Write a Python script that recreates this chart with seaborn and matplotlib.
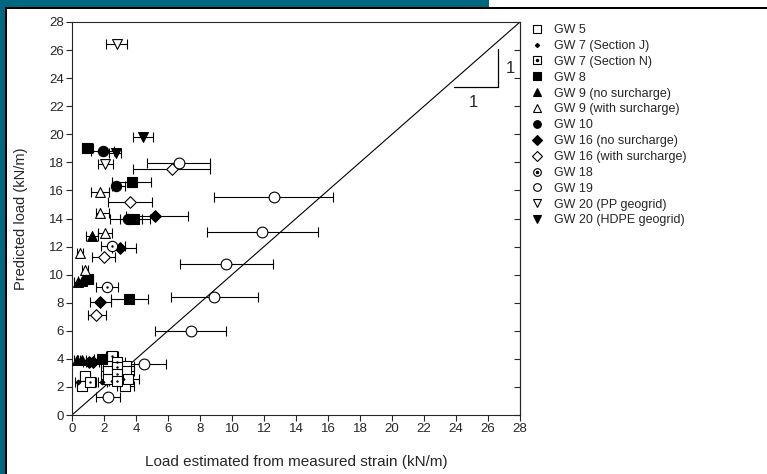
import matplotlib
matplotlib.use("Agg")
import matplotlib.pyplot as plt
from matplotlib.lines import Line2D
from matplotlib.patches import Rectangle
import seaborn as sns

# ---- data: x = load from strain, y = predicted load, lo/hi = x error bar ends ----
gw5_x = [0.8, 0.6, 2.25, 2.25, 3.4, 3.4, 3.3, 2.25, 3.5]
gw5_y = [2.8, 2.1, 3.6, 3.15, 3.5, 3.15, 2.1, 2.6, 2.6]
gw5_lo = [0.5, 0.3, 1.8, 1.8, 2.9, 2.9, 2.8, 1.8, 3.0]
gw5_hi = [1.1, 0.9, 2.8, 2.8, 3.9, 3.9, 3.9, 2.8, 4.2]

gw7j_x = [0.4, 1.9, 2.55, 3.1]
gw7j_y = [2.37, 2.37, 2.45, 2.55]
gw7j_lo = [0.2, 1.6, 2.2, 2.7]
gw7j_hi = [0.6, 2.2, 2.9, 3.5]

gw7n_x = [2.5, 1.15, 2.8, 2.8, 2.8, 2.8]
gw7n_y = [4.2, 2.37, 3.8, 3.4, 2.9, 2.45]
gw7n_lo = [2.1, 0.8, 2.3, 2.3, 2.3, 2.3]
gw7n_hi = [2.9, 1.5, 3.3, 3.3, 3.3, 3.3]

gw8_x = [0.92, 3.73, 3.85, 1.0, 3.56, 1.85]
gw8_y = [19.0, 16.6, 14.0, 9.7, 8.3, 4.0]
gw8_lo = [0.65, 2.5, 3.0, 0.7, 2.45, 1.4]
gw8_hi = [1.3, 4.95, 4.9, 1.3, 4.75, 2.3]

gw9n_x = [1.25, 0.35, 0.65, 0.29, 0.6]
gw9n_y = [12.75, 9.45, 9.55, 3.92, 3.92]
gw9n_lo = [0.9, 0.15, 0.4, 0.1, 0.35]
gw9n_hi = [1.6, 0.6, 0.95, 0.5, 0.9]

gw9s_x = [1.73, 1.75, 2.04, 0.48, 0.79]
gw9s_y = [15.9, 14.4, 13.0, 11.56, 10.33]
gw9s_lo = [1.19, 1.48, 1.6, 0.3, 0.6]
gw9s_hi = [2.29, 2.31, 2.5, 0.7, 1.0]

gw10_x = [1.94, 2.78, 3.5]
gw10_y = [18.83, 16.35, 14.0]
gw10_lo = [1.2, 2.5, 2.35]
gw10_hi = [2.6, 3.3, 4.4]

gw16n_x = [5.2, 2.98, 1.77, 1.33, 1.05]
gw16n_y = [14.2, 11.87, 8.08, 3.8, 3.75]
gw16n_lo = [3.4, 2.5, 1.15, 0.9, 0.7]
gw16n_hi = [7.25, 4.0, 2.45, 1.7, 1.4]

gw16s_x = [6.23, 3.61, 2.0, 1.52]
gw16s_y = [17.53, 15.17, 11.28, 7.1]
gw16s_lo = [3.83, 2.28, 1.25, 1.0]
gw16s_hi = [8.6, 4.98, 2.7, 2.1]

gw18_x = [2.5, 2.19]
gw18_y = [12.04, 9.15]
gw18_lo = [1.8, 1.5]
gw18_hi = [3.3, 2.9]

gw19_x = [6.67, 12.6, 11.9, 9.65, 8.9, 7.46, 4.48, 2.25]
gw19_y = [17.95, 15.5, 13.05, 10.73, 8.44, 5.97, 3.6, 1.26]
gw19_lo = [4.67, 8.9, 8.44, 6.73, 6.2, 5.2, 3.0, 1.52]
gw19_hi = [8.65, 16.3, 15.35, 12.56, 11.6, 9.65, 5.9, 2.98]

gw20pp_x = [2.79, 2.08]
gw20pp_y = [26.45, 17.88]
gw20pp_lo = [2.13, 1.6]
gw20pp_hi = [3.46, 2.58]

gw20h_x = [4.46, 2.75]
gw20h_y = [19.78, 18.66]
gw20h_lo = [3.83, 2.33]
gw20h_hi = [5.08, 3.08]

series = [
    # label, x, y, lo, hi, marker, filled, size, centre dot
    ("GW 5", gw5_x, gw5_y, gw5_lo, gw5_hi, "s", False, 45, False),
    ("GW 7 (Section J)", gw7j_x, gw7j_y, gw7j_lo, gw7j_hi, "D", True, 6, False),
    ("GW 7 (Section N)", gw7n_x, gw7n_y, gw7n_lo, gw7n_hi, "s", False, 45, True),
    ("GW 8", gw8_x, gw8_y, gw8_lo, gw8_hi, "s", True, 45, False),
    ("GW 9 (no surcharge)", gw9n_x, gw9n_y, gw9n_lo, gw9n_hi, "^", True, 50, False),
    ("GW 9 (with surcharge)", gw9s_x, gw9s_y, gw9s_lo, gw9s_hi, "^", False, 50, False),
    ("GW 10", gw10_x, gw10_y, gw10_lo, gw10_hi, "o", True, 55, False),
    ("GW 16 (no surcharge)", gw16n_x, gw16n_y, gw16n_lo, gw16n_hi, "D", True, 35, False),
    ("GW 16 (with surcharge)", gw16s_x, gw16s_y, gw16s_lo, gw16s_hi, "D", False, 35, False),
    ("GW 18", gw18_x, gw18_y, gw18_lo, gw18_hi, "o", False, 55, True),
    ("GW 19", gw19_x, gw19_y, gw19_lo, gw19_hi, "o", False, 60, False),
    ("GW 20 (PP geogrid)", gw20pp_x, gw20pp_y, gw20pp_lo, gw20pp_hi, "v", False, 50, False),
    ("GW 20 (HDPE geogrid)", gw20h_x, gw20h_y, gw20h_lo, gw20h_hi, "v", True, 50, False),
]

sns.set_style("ticks")
plt.rcParams["font.family"] = ["Liberation Sans", "DejaVu Sans"]

W, H = 767, 474
fig = plt.figure(figsize=(W / 100, H / 100), dpi=100)
ax = fig.add_axes([72 / W, 1 - 415 / H, (520 - 72) / W, (415 - 22) / H])

for label, x, y, lo, hi, mk, filled, size, dot in series:
    xerr = [[xi - l for xi, l in zip(x, lo)], [h - xi for xi, h in zip(x, hi)]]
    ax.errorbar(x, y, xerr=xerr, fmt="none", ecolor="black", elinewidth=0.8,
                capsize=3.6, capthick=0.8, zorder=2)
    sns.scatterplot(x=x, y=y, marker=mk, s=size, ax=ax, zorder=3,
                    color="black" if filled else "white",
                    edgecolor="black", linewidth=0.8)
    if dot:
        sns.scatterplot(x=x, y=y, marker="o", s=3, ax=ax, zorder=4,
                        color="black", edgecolor="black", linewidth=0)

# 1:1 line and slope triangle
ax.plot([0, 28], [0, 28], color="black", lw=0.8, zorder=1)
ax.plot([23.9, 26.6, 26.6], [23.4, 23.4, 26.1], color="black", lw=0.9)
ax.text(25.1, 22.3, "1", fontsize=12, ha="center", va="center")
ax.text(27.4, 24.7, "1", fontsize=12, ha="center", va="center")

ax.set_xlim(0, 28)
ax.set_ylim(0, 28)
ax.set_xticks(range(0, 29, 2))
ax.set_yticks(range(0, 29, 2))
ax.tick_params(labelsize=9.5, length=4, width=0.8, direction="out", pad=2)
for sp in ax.spines.values():
    sp.set_linewidth(0.8)
    sp.set_visible(True)
sec = ax.secondary_yaxis("right")
sec.set_yticks(range(0, 29, 2))
sec.tick_params(direction="in", length=4, width=0.8, labelright=False)
sec.spines["right"].set_linewidth(0.8)

ax.set_xlabel("Load estimated from measured strain (kN/m)", fontsize=11, labelpad=14)
ax.set_ylabel("Predicted load (kN/m)", fontsize=10.5, labelpad=15)

# legend
handles = []
for label, x, y, lo, hi, mk, filled, size, dot in series:
    ms = 2.2 if size < 10 else 5.5
    h = Line2D([], [], ls="none", marker=mk, markersize=ms,
               markerfacecolor="black" if filled else "white",
               markeredgecolor="black", markeredgewidth=0.8)
    if dot:
        h = (h, Line2D([], [], ls="none", marker="o", markersize=1.5,
                       markerfacecolor="black", markeredgecolor="black"))
    handles.append(h)
fig.legend(handles, [s[0] for s in series], loc="upper left",
           bbox_to_anchor=(530 / W, 1 - 24 / H), frameon=False, fontsize=9,
           handlelength=1.1, handletextpad=0.85, labelspacing=0.31,
           borderaxespad=0, borderpad=0)

# page border from the slide
teal = "#006781"
fig.add_artist(Rectangle((0, 0), 5 / W, 1, transform=fig.transFigure,
                         color=teal, lw=0, zorder=10))
fig.add_artist(Rectangle((0, 1 - 7 / H), 489 / W, 7 / H, transform=fig.transFigure,
                         color=teal, lw=0, zorder=10))
fig.add_artist(Rectangle((5 / W, 0), 2 / W, 1 - 7 / H, transform=fig.transFigure,
                         color="black", lw=0, zorder=10))
fig.add_artist(Rectangle((5 / W, 1 - 9 / H), 1 - 5 / W, 2 / H, transform=fig.transFigure,
                         color="black", lw=0, zorder=10))

fig.savefig("out.png", dpi=100)
